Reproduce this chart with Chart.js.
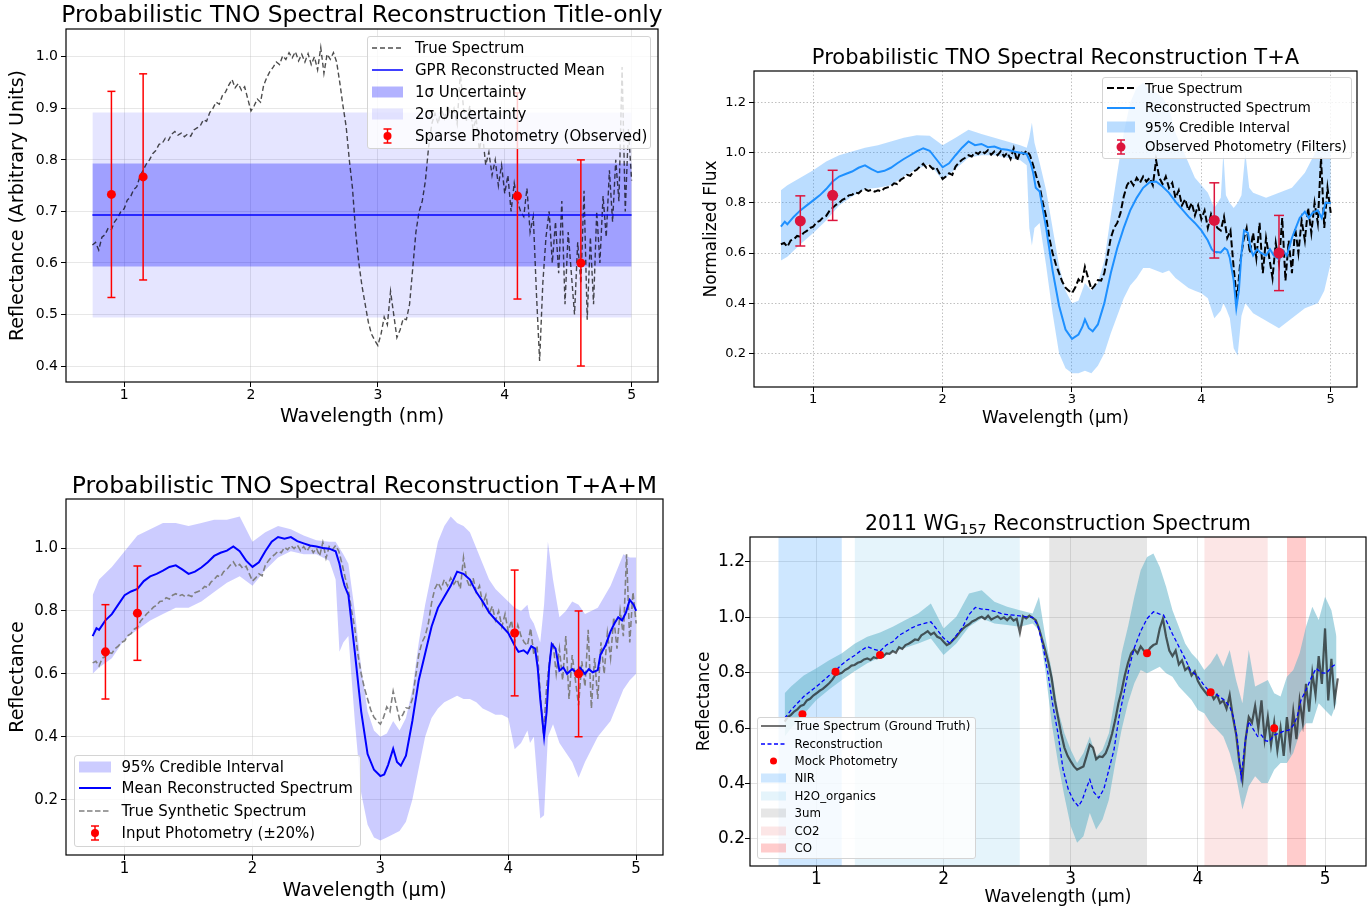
<!DOCTYPE html>
<html>
<head>
<meta charset="utf-8">
<script src="https://cdn.jsdelivr.net/npm/chart.js@4.4.1/dist/chart.umd.min.js"></script>
<style>
html, body { margin: 0; padding: 0; background: #fff; }
#page { position: relative; width: 1369px; height: 911px; overflow: hidden; font-family: "DejaVu Sans", sans-serif; }
canvas { position: absolute; }
.legend { position: absolute; background: rgba(255,255,255,0.8); border: 1px solid #d4d4d4; border-radius: 3px; box-sizing: border-box; }
.legend .row { position: absolute; left: 0; height: 20px; display: flex; align-items: center; white-space: nowrap; color: #000; }
.legend .sym { display: inline-block; height: 20px; }
</style>
</head>
<body>
<div id="page">
  <canvas id="c1"></canvas>
  <canvas id="c2"></canvas>
  <canvas id="c3"></canvas>
  <canvas id="c4"></canvas>
</div>
<script>
// ---------- data ----------

// synthetic true spectrum shared by the first three panels, 0.75..5.00 um every 0.025 um
const trueFlux = [
  0.635,0.640,0.625,0.650,0.655,0.668,0.665,0.680,0.688,0.700,
  0.705,0.722,0.728,0.742,0.748,0.768,0.780,0.792,0.800,0.812,
  0.818,0.830,0.832,0.842,0.838,0.850,0.855,0.848,0.852,0.845,
  0.850,0.846,0.858,0.862,0.866,0.878,0.875,0.892,0.900,0.912,
  0.908,0.925,0.932,0.945,0.956,0.940,0.948,0.935,0.942,0.918,
  0.895,0.905,0.918,0.912,0.945,0.960,0.972,0.980,0.990,0.985,
  1.002,0.995,1.008,0.998,1.010,0.992,1.005,0.990,1.006,0.985,
  1.000,0.975,1.018,0.968,1.005,0.995,1.008,0.990,0.950,0.905,
  0.865,0.800,0.745,0.660,0.600,0.555,0.520,0.485,0.462,0.450,
  0.440,0.462,0.495,0.480,0.545,0.500,0.455,0.470,0.492,0.490,
  0.520,0.590,0.660,0.700,0.720,0.760,0.825,0.870,0.890,0.870,
  0.900,0.880,0.905,0.885,0.900,0.870,0.970,0.900,0.875,0.905,
  0.860,0.880,0.820,0.850,0.790,0.815,0.770,0.800,0.750,0.790,
  0.735,0.770,0.700,0.755,0.720,0.700,0.690,0.745,0.660,0.690,
  0.540,0.410,0.560,0.650,0.700,0.600,0.680,0.580,0.720,0.520,
  0.660,0.580,0.500,0.640,0.560,0.740,0.490,0.650,0.520,0.700,
  0.600,0.730,0.650,0.780,0.680,0.800,0.720,0.980,0.700,0.860,
  0.760
];
const trueWl = trueFlux.map((_, i) => +(0.75 + 0.025 * i).toFixed(3));

// panel 1: GPR with a flat mean
const p1Mean = 0.693;
const p1Sigma1 = [0.593, 0.793];
const p1Sigma2 = [0.494, 0.892];
const p1Range = [0.75, 5.0];
const p1PhotWl = [0.9, 1.15, 4.1, 4.6];
const p1PhotVal = [0.733, 0.767, 0.73, 0.60];
const p1PhotErr = [0.2, 0.2, 0.2, 0.2];

// panel 2: T+A
const p2Recon = [
  [0.75,0.705],[0.78,0.725],[0.80,0.715],[0.85,0.745],[0.90,0.770],[0.95,0.790],[1.00,0.810],
  [1.05,0.830],[1.10,0.855],[1.15,0.885],[1.20,0.905],[1.25,0.915],[1.30,0.925],[1.35,0.940],
  [1.40,0.950],[1.45,0.935],[1.50,0.922],[1.55,0.928],[1.60,0.940],[1.65,0.958],[1.70,0.975],
  [1.75,0.990],[1.80,1.005],[1.85,1.018],[1.90,1.008],[1.95,0.975],[2.00,0.942],[2.05,0.958],
  [2.10,0.990],[2.15,1.020],[2.20,1.045],[2.25,1.030],[2.30,1.035],[2.35,1.022],[2.40,1.025],
  [2.45,1.015],[2.50,1.012],[2.55,1.005],[2.60,1.000],[2.65,0.995],[2.68,0.960],[2.70,0.920],
  [2.72,0.860],[2.75,0.845],[2.80,0.700],[2.85,0.530],[2.90,0.390],[2.95,0.295],[3.00,0.258],
  [3.05,0.275],[3.08,0.305],[3.10,0.335],[3.13,0.300],[3.16,0.288],[3.20,0.315],[3.25,0.400],
  [3.30,0.520],[3.35,0.620],[3.40,0.700],[3.45,0.770],[3.50,0.820],[3.55,0.860],[3.60,0.882],
  [3.65,0.885],[3.70,0.865],[3.75,0.840],[3.80,0.805],[3.85,0.775],[3.90,0.745],[3.95,0.720],
  [4.00,0.690],[4.05,0.650],[4.08,0.615],[4.10,0.605],[4.15,0.602],[4.18,0.620],[4.20,0.612],
  [4.22,0.580],[4.25,0.490],[4.27,0.380],[4.29,0.450],[4.31,0.600],[4.33,0.690],[4.36,0.680],
  [4.38,0.620],[4.40,0.590],[4.43,0.615],[4.46,0.600],[4.50,0.590],[4.53,0.615],[4.56,0.590],
  [4.60,0.575],[4.63,0.610],[4.66,0.590],[4.70,0.660],[4.73,0.700],[4.76,0.740],[4.80,0.765],
  [4.83,0.740],[4.86,0.760],[4.90,0.770],[4.93,0.740],[4.96,0.800],[5.00,0.800]
];
const p2Band = [ // wavelength, lower, upper
  [0.75,0.570,0.850],[0.80,0.585,0.870],[0.85,0.610,0.885],[0.90,0.635,0.900],[1.00,0.680,0.930],
  [1.10,0.730,0.965],[1.20,0.790,0.990],[1.30,0.825,1.005],[1.40,0.855,1.020],[1.50,0.860,1.030],
  [1.60,0.870,1.045],[1.70,0.905,1.060],[1.80,0.935,1.070],[1.90,0.955,1.068],[2.00,0.890,1.030],
  [2.10,0.935,1.060],[2.20,0.980,1.092],[2.30,0.990,1.075],[2.40,0.990,1.060],[2.50,0.980,1.045],
  [2.60,0.970,1.030],[2.65,0.950,1.020],[2.67,0.700,1.060],[2.69,0.630,1.120],[2.71,0.700,1.040],
  [2.75,0.720,0.960],[2.80,0.550,0.850],[2.85,0.360,0.700],[2.90,0.200,0.550],[2.95,0.140,0.450],
  [3.00,0.120,0.400],[3.05,0.120,0.410],[3.10,0.130,0.480],[3.15,0.120,0.450],[3.20,0.150,0.480],
  [3.25,0.200,0.570],[3.30,0.280,0.750],[3.35,0.350,0.920],[3.40,0.420,1.080],[3.45,0.470,1.200],
  [3.50,0.500,1.260],[3.55,0.540,1.280],[3.60,0.540,1.250],[3.65,0.530,1.240],[3.70,0.520,1.220],
  [3.75,0.530,1.180],[3.80,0.500,1.080],[3.85,0.480,1.020],[3.90,0.460,0.960],[3.95,0.450,0.900],
  [4.00,0.440,0.870],[4.05,0.420,0.840],[4.10,0.340,0.780],[4.15,0.370,0.820],[4.17,0.400,1.000],
  [4.19,0.380,0.830],[4.22,0.340,0.800],[4.25,0.220,0.780],[4.28,0.190,0.800],[4.31,0.350,0.830],
  [4.34,0.400,1.000],[4.37,0.380,0.860],[4.40,0.360,0.840],[4.50,0.330,0.820],[4.60,0.300,0.840],
  [4.70,0.340,0.860],[4.80,0.380,0.920],[4.90,0.400,1.020],[4.95,0.450,1.050],[5.00,0.560,1.020]
];
const p2PhotWl = [0.9, 1.15, 4.1, 4.6];
const p2PhotVal = [0.728, 0.83, 0.73, 0.60];
const p2PhotErr = [0.1, 0.1, 0.15, 0.15];

// panel 3: T+A+M
const p3Recon = [
  [0.75,0.720],[0.78,0.745],[0.80,0.740],[0.85,0.770],[0.90,0.790],[0.95,0.820],[1.00,0.850],
  [1.05,0.862],[1.10,0.870],[1.15,0.895],[1.20,0.910],[1.25,0.918],[1.30,0.928],[1.35,0.940],
  [1.40,0.945],[1.45,0.932],[1.50,0.918],[1.55,0.925],[1.60,0.938],[1.65,0.955],[1.70,0.975],
  [1.75,0.985],[1.80,0.992],[1.85,1.005],[1.90,0.990],[1.95,0.960],[2.00,0.940],[2.05,0.955],
  [2.10,0.990],[2.15,1.020],[2.20,1.035],[2.25,1.030],[2.30,1.035],[2.35,1.022],[2.40,1.015],
  [2.45,1.008],[2.50,1.005],[2.55,1.000],[2.60,0.998],[2.65,0.990],[2.68,0.950],[2.70,0.910],
  [2.72,0.880],[2.75,0.850],[2.80,0.670],[2.85,0.480],[2.90,0.345],[2.95,0.295],[3.00,0.275],
  [3.03,0.280],[3.06,0.310],[3.10,0.362],[3.13,0.320],[3.16,0.308],[3.20,0.340],[3.25,0.450],
  [3.30,0.580],[3.35,0.665],[3.40,0.750],[3.45,0.810],[3.50,0.845],[3.55,0.880],[3.60,0.925],
  [3.65,0.918],[3.70,0.900],[3.75,0.860],[3.80,0.830],[3.85,0.795],[3.90,0.772],[3.95,0.752],
  [4.00,0.730],[4.05,0.690],[4.08,0.670],[4.12,0.675],[4.15,0.665],[4.18,0.688],[4.21,0.680],
  [4.23,0.620],[4.25,0.520],[4.28,0.400],[4.30,0.480],[4.32,0.620],[4.34,0.695],[4.37,0.680],
  [4.40,0.610],[4.43,0.620],[4.46,0.600],[4.50,0.615],[4.53,0.605],[4.56,0.620],[4.60,0.600],
  [4.63,0.615],[4.66,0.605],[4.70,0.612],[4.72,0.660],[4.76,0.690],[4.80,0.735],[4.83,0.760],
  [4.86,0.780],[4.89,0.770],[4.92,0.795],[4.95,0.835],[4.98,0.820],[5.00,0.800]
];
const p3Band = [
  [0.75,0.600,0.850],[0.80,0.620,0.900],[0.90,0.650,0.940],[1.00,0.710,0.990],[1.10,0.740,1.040],
  [1.20,0.770,1.060],[1.30,0.790,1.080],[1.40,0.810,1.080],[1.50,0.810,1.070],[1.60,0.830,1.080],
  [1.70,0.860,1.090],[1.80,0.890,1.090],[1.90,0.910,1.100],[2.00,0.880,1.020],[2.10,0.930,1.050],
  [2.20,0.970,1.070],[2.30,0.990,1.060],[2.40,0.980,1.040],[2.50,0.980,1.025],[2.60,0.960,1.020],
  [2.65,0.900,1.020],[2.68,0.670,1.000],[2.71,0.700,0.980],[2.75,0.720,0.950],[2.80,0.450,0.800],
  [2.85,0.220,0.620],[2.90,0.120,0.480],[2.95,0.080,0.420],[3.00,0.070,0.400],[3.05,0.080,0.410],
  [3.10,0.090,0.450],[3.15,0.100,0.420],[3.20,0.130,0.460],[3.25,0.200,0.550],[3.30,0.300,0.700],
  [3.35,0.400,0.820],[3.40,0.460,0.920],[3.45,0.490,1.020],[3.50,0.510,1.070],[3.55,0.520,1.100],
  [3.60,0.530,1.080],[3.65,0.520,1.070],[3.70,0.520,1.050],[3.75,0.510,1.000],[3.80,0.490,0.950],
  [3.85,0.480,0.900],[3.90,0.470,0.870],[3.95,0.470,0.850],[4.00,0.460,0.830],[4.05,0.360,0.810],
  [4.10,0.380,0.800],[4.15,0.420,0.820],[4.17,0.380,0.780],[4.20,0.400,0.760],[4.25,0.140,0.700],
  [4.28,0.150,0.820],[4.31,0.400,1.020],[4.35,0.440,0.900],[4.40,0.380,0.780],[4.45,0.350,0.800],
  [4.50,0.320,0.830],[4.55,0.270,0.820],[4.60,0.320,0.790],[4.70,0.400,0.810],[4.80,0.450,0.880],
  [4.90,0.550,0.980],[4.95,0.580,0.970],[5.00,0.600,0.970]
];
const p3PhotWl = [0.85, 1.1, 4.05, 4.55];
const p3PhotVal = [0.67, 0.793, 0.73, 0.60];
const p3PhotErr = [0.15, 0.15, 0.2, 0.2];

// panel 4: 2011 WG157, true spectrum 0.75..5.10 um every 0.025 um
const p4TrueFlux = [
  0.624,0.640,0.648,0.660,0.668,0.680,0.684,0.700,0.706,0.718,
  0.726,0.735,0.742,0.752,0.762,0.775,0.792,0.796,0.800,0.810,
  0.816,0.826,0.828,0.836,0.840,0.848,0.852,0.846,0.856,0.852,
  0.862,0.858,0.870,0.868,0.878,0.872,0.892,0.886,0.900,0.905,
  0.912,0.920,0.918,0.935,0.942,0.950,0.938,0.945,0.930,0.925,
  0.912,0.900,0.906,0.918,0.930,0.945,0.958,0.968,0.975,0.985,
  0.990,0.998,1.002,0.994,1.006,0.992,0.998,1.004,0.994,1.000,
  0.990,1.002,0.988,0.995,0.945,1.004,0.996,1.006,0.998,0.990,
  0.960,0.920,0.880,0.835,0.780,0.700,0.640,0.580,0.530,0.500,
  0.480,0.462,0.450,0.456,0.462,0.500,0.540,0.530,0.488,0.498,
  0.496,0.510,0.540,0.580,0.630,0.690,0.735,0.790,0.835,0.870,
  0.885,0.870,0.895,0.880,0.872,0.890,0.900,0.905,0.960,0.995,
  0.930,0.880,0.860,0.880,0.830,0.845,0.810,0.820,0.790,0.805,
  0.770,0.750,0.735,0.720,0.730,0.705,0.720,0.690,0.700,0.670,
  0.720,0.640,0.580,0.480,0.414,0.560,0.640,0.620,0.680,0.600,
  0.700,0.560,0.640,0.540,0.620,0.520,0.600,0.500,0.640,0.540,
  0.660,0.560,0.700,0.620,0.760,0.660,0.800,0.720,0.860,0.760,
  0.960,0.700,0.850,0.700,0.780
];
const p4TrueWl = p4TrueFlux.map((_, i) => +(0.75 + 0.025 * i).toFixed(3));
const p4Recon = [
  [0.75,0.636],[0.80,0.665],[0.85,0.690],[0.90,0.714],[0.95,0.732],[1.00,0.750],[1.05,0.770],
  [1.10,0.790],[1.15,0.808],[1.20,0.830],[1.25,0.848],[1.30,0.862],[1.35,0.880],[1.40,0.894],
  [1.45,0.885],[1.50,0.878],[1.55,0.900],[1.60,0.912],[1.65,0.935],[1.70,0.948],[1.75,0.962],
  [1.80,0.972],[1.85,0.978],[1.90,0.984],[1.95,0.955],[2.00,0.925],[2.05,0.906],[2.10,0.935],
  [2.15,0.965],[2.20,1.010],[2.25,1.036],[2.30,1.030],[2.35,1.028],[2.40,1.022],[2.45,1.014],
  [2.50,1.010],[2.55,1.008],[2.60,1.005],[2.65,1.002],[2.70,1.000],[2.74,0.972],[2.78,0.900],
  [2.82,0.800],[2.86,0.680],[2.90,0.580],[2.94,0.450],[2.98,0.380],[3.02,0.340],[3.06,0.318],
  [3.09,0.340],[3.12,0.380],[3.15,0.414],[3.18,0.370],[3.22,0.348],[3.26,0.380],[3.30,0.450],
  [3.34,0.522],[3.38,0.640],[3.42,0.730],[3.46,0.820],[3.50,0.890],[3.55,0.950],[3.60,0.995],
  [3.65,1.020],[3.70,1.012],[3.73,1.008],[3.77,0.970],[3.80,0.940],[3.85,0.895],[3.90,0.850],
  [3.94,0.810],[4.00,0.786],[4.04,0.760],[4.08,0.738],[4.12,0.730],[4.17,0.714],[4.21,0.700],
  [4.25,0.678],[4.28,0.640],[4.31,0.560],[4.34,0.420],[4.37,0.546],[4.40,0.624],[4.43,0.600],
  [4.47,0.570],[4.50,0.575],[4.53,0.555],[4.56,0.552],[4.60,0.575],[4.64,0.582],[4.68,0.590],
  [4.72,0.594],[4.75,0.610],[4.78,0.640],[4.81,0.700],[4.85,0.738],[4.89,0.780],[4.93,0.816],
  [4.97,0.800],[5.01,0.798],[5.05,0.820],[5.09,0.834]
];
const p4Band = [
  [0.75,0.570,0.726],[0.80,0.600,0.750],[0.90,0.650,0.790],[1.00,0.702,0.816],[1.10,0.740,0.845],
  [1.20,0.774,0.870],[1.30,0.805,0.905],[1.40,0.834,0.930],[1.50,0.855,0.945],[1.60,0.876,0.966],
  [1.70,0.890,0.990],[1.80,0.906,1.014],[1.90,0.924,1.050],[2.00,0.864,0.960],[2.10,0.906,1.002],
  [2.20,0.966,1.086],[2.30,0.996,1.098],[2.40,0.978,1.056],[2.50,0.972,1.038],[2.60,0.966,1.026],
  [2.70,0.978,1.014],[2.75,0.954,1.074],[2.80,0.810,0.930],[2.85,0.618,0.810],[2.90,0.474,0.666],
  [2.95,0.354,0.582],[3.00,0.246,0.522],[3.05,0.186,0.474],[3.10,0.210,0.510],[3.15,0.294,0.570],
  [3.20,0.234,0.498],[3.25,0.270,0.522],[3.30,0.342,0.582],[3.35,0.474,0.714],[3.40,0.594,0.870],
  [3.45,0.690,0.966],[3.50,0.762,1.074],[3.55,0.810,1.170],[3.60,0.798,1.218],[3.65,0.810,1.230],
  [3.70,0.822,1.182],[3.75,0.798,1.110],[3.80,0.786,1.026],[3.85,0.750,0.966],[3.90,0.726,0.906],
  [3.95,0.702,0.870],[4.00,0.666,0.846],[4.05,0.654,0.810],[4.10,0.618,0.834],[4.15,0.594,0.870],
  [4.20,0.570,0.822],[4.25,0.510,0.882],[4.30,0.426,0.774],[4.35,0.306,0.690],[4.40,0.390,0.882],
  [4.45,0.426,0.750],[4.50,0.402,0.762],[4.55,0.402,0.774],[4.60,0.450,0.726],[4.65,0.474,0.714],
  [4.70,0.474,0.786],[4.75,0.510,0.810],[4.80,0.582,0.870],[4.85,0.618,0.966],[4.90,0.618,1.038],
  [4.95,0.690,0.990],[5.00,0.666,1.074],[5.05,0.642,1.026],[5.09,0.690,0.930]
];
const p4PhotWl = [0.89, 1.15, 1.5, 3.6, 4.1, 4.6];
const p4PhotVal = [0.65, 0.804, 0.864, 0.87, 0.73, 0.60];
const p4Regions = ['NIR', 'H2O_organics', '3um', 'CO2', 'CO'];
const p4RegionStart = [0.70, 1.30, 2.83, 4.05, 4.70];
const p4RegionEnd = [1.20, 2.60, 3.60, 4.55, 4.85];
const p4RegionColor = ['rgba(30,144,255,0.22)', 'rgba(135,206,235,0.22)', 'rgba(128,128,128,0.2)', 'rgba(240,128,128,0.2)', 'rgba(255,0,0,0.2)'];

// tick labels
const xTicks = [1, 2, 3, 4, 5];
const p1YTicks = [0.4, 0.5, 0.6, 0.7, 0.8, 0.9, 1.0];
const p2YTicks = [0.2, 0.4, 0.6, 0.8, 1.0, 1.2];
const p3YTicks = [0.2, 0.4, 0.6, 0.8, 1.0];
const p4YTicks = [0.2, 0.4, 0.6, 0.8, 1.0, 1.2];

// ---------- helpers ----------
Chart.defaults.font.family = "'DejaVu Sans', sans-serif";
Chart.defaults.color = '#000';

const xy = pairs => pairs.map(p => ({x: p[0], y: p[1]}));
const NONE = 'rgba(0,0,0,0)';

function curve(data, color, width, dash, order) {
  return {data, borderColor: color, borderWidth: width, borderDash: dash || [], pointRadius: 0, tension: 0, fill: false, order};
}

function band(rows, color, order) {
  return [
    {data: rows.map(r => ({x: r[0], y: r[1]})), borderColor: NONE, borderWidth: 0, pointRadius: 0, fill: false, order},
    {data: rows.map(r => ({x: r[0], y: r[2]})), borderColor: NONE, borderWidth: 0, pointRadius: 0, fill: '-1', backgroundColor: color, order}
  ];
}

function errorBars(wl, val, err, color, width, cap, order) {
  return wl.map((x, i) => ({
    data: [{x, y: val[i] - err[i]}, {x, y: val[i] + err[i]}],
    borderColor: color, borderWidth: width,
    pointStyle: 'line', pointRadius: cap, pointBorderColor: color, pointBorderWidth: width,
    fill: false, order
  }));
}

function markers(wl, val, color, r, order) {
  return {data: wl.map((x, i) => ({x, y: val[i]})), showLine: false, pointRadius: r,
          pointBackgroundColor: color, pointBorderColor: color, pointBorderWidth: 0, order};
}

const titlePlugin = {
  id: 'panelTitle',
  afterDraw(chart, args, o) {
    const {ctx, chartArea: a} = chart;
    ctx.save();
    ctx.fillStyle = '#000';
    ctx.textBaseline = 'alphabetic';
    ctx.textAlign = 'left';
    const parts = o.parts.map(p => {
      const size = p.sub ? o.size * 0.7 : o.size;
      ctx.font = size + "px 'DejaVu Sans'";
      return {text: p.text, size, sub: p.sub, w: ctx.measureText(p.text).width};
    });
    let x = (a.left + a.right) / 2 - parts.reduce((t, p) => t + p.w, 0) / 2;
    parts.forEach(p => {
      ctx.font = p.size + "px 'DejaVu Sans'";
      ctx.fillText(p.text, x, o.baseline + (p.sub ? o.size * 0.22 : 0));
      x += p.w;
    });
    ctx.restore();
  }
};

const framePlugin = {
  id: 'frame',
  afterDatasetsDraw(chart) {
    const {ctx, chartArea: a} = chart;
    ctx.save();
    ctx.setLineDash([]);
    ctx.strokeStyle = '#000';
    ctx.lineWidth = 1.2;
    ctx.strokeRect(a.left, a.top, a.right - a.left, a.bottom - a.top);
    ctx.restore();
  }
};

function makeChart(id, g, s) {
  const cv = document.getElementById(id);
  cv.width = g.box.w;
  cv.height = g.box.h;
  cv.style.left = g.box.x + 'px';
  cv.style.top = g.box.y + 'px';
  const yW = g.plot.l - g.box.x - 2;
  const xH = g.box.y + g.box.h - 2 - g.plot.b;
  const lh = s.labelSize * 1.2;
  const grid = {color: s.gridColor, lineWidth: 1, drawTicks: true, tickLength: 5, tickColor: '#000', tickWidth: 1};
  return new Chart(cv, {
    type: 'line',
    data: {datasets: s.datasets},
    options: {
      responsive: false,
      animation: false,
      events: [],
      layout: {autoPadding: false, padding: {left: 2, top: g.plot.t - g.box.y, right: g.box.x + g.box.w - g.plot.r, bottom: 2}},
      plugins: {
        legend: {display: false},
        tooltip: {enabled: false},
        panelTitle: {parts: s.title, size: s.titleSize, baseline: s.titleBase - g.box.y}
      },
      scales: {
        x: {
          type: 'linear', min: s.xMin, max: s.xMax,
          afterFit: sc => { sc.height = xH; },
          afterBuildTicks: sc => { sc.ticks = xTicks.map(v => ({value: v})); },
          ticks: {font: {size: s.tickSize}, color: '#000', padding: s.xTickPad, maxRotation: 0, autoSkip: false, callback: v => String(v)},
          grid, border: {display: false, dash: s.gridDash || []},
          title: {display: true, text: s.xTitle, color: '#000', font: {size: s.labelSize},
                  padding: {top: 0, bottom: (g.box.y + g.box.h - 2) - s.xTitleY - lh / 2}}
        },
        y: {
          min: s.yMin, max: s.yMax,
          afterFit: sc => { sc.width = yW; },
          afterBuildTicks: sc => { sc.ticks = s.yTicks.map(v => ({value: v})); },
          ticks: {font: {size: s.tickSize}, color: '#000', padding: s.yTickPad, autoSkip: false, callback: v => v.toFixed(1)},
          grid, border: {display: false, dash: s.gridDash || []},
          title: {display: true, text: s.yTitle, color: '#000', font: {size: s.labelSize},
                  padding: {top: s.yTitleX - (g.box.x + 2) - lh / 2, bottom: 0}}
        }
      }
    },
    plugins: [titlePlugin, framePlugin]
  });
}

const sym = {
  line: (w, c, lw, dash) => `<svg width="${w}" height="20"><line x1="0" y1="10" x2="${w}" y2="10" stroke="${c}" stroke-width="${lw}"${dash ? ` stroke-dasharray="${dash}"` : ''}/></svg>`,
  patch: (w, c, h) => `<svg width="${w}" height="20"><rect x="0" y="${10 - h / 2}" width="${w}" height="${h}" fill="${c}"/></svg>`,
  err: (w, c, r, cap, half) => `<svg width="${w}" height="20">
      <line x1="${w / 2}" y1="${10 - half}" x2="${w / 2}" y2="${10 + half}" stroke="${c}" stroke-width="1.5"/>
      <line x1="${w / 2 - cap}" y1="${10 - half}" x2="${w / 2 + cap}" y2="${10 - half}" stroke="${c}" stroke-width="1.5"/>
      <line x1="${w / 2 - cap}" y1="${10 + half}" x2="${w / 2 + cap}" y2="${10 + half}" stroke="${c}" stroke-width="1.5"/>
      <circle cx="${w / 2}" cy="10" r="${r}" fill="${c}"/></svg>`,
  dot: (w, c, r) => `<svg width="${w}" height="20"><circle cx="${w / 2}" cy="10" r="${r}" fill="${c}"/></svg>`
};

function drawLegend(L) {
  const el = document.createElement('div');
  el.className = 'legend';
  Object.assign(el.style, {left: L.x + 'px', top: L.y + 'px', width: L.w + 'px', height: L.h + 'px'});
  L.rows.forEach((r, i) => {
    const row = document.createElement('div');
    row.className = 'row';
    row.style.top = (L.rowY[i] - L.y - 1 - 10) + 'px';
    row.innerHTML = `<span class="sym" style="width:${L.symW}px;margin-left:${L.symX - L.x - 1}px">${r.sym}</span>` +
      `<span style="margin-left:${L.textX - L.symX - L.symW}px;font-size:${L.font}px">${r.label}</span>`;
    el.appendChild(row);
  });
  document.getElementById('page').appendChild(el);
}

// ---------- panel 1 ----------
makeChart('c1', {box: {x: 0, y: 0, w: 684, h: 455}, plot: {l: 66, t: 29, r: 658, b: 382}}, {
  title: [{text: 'Probabilistic TNO Spectral Reconstruction Title-only'}], titleSize: 23.4, titleBase: 22,
  xMin: 0.542, xMax: 5.208, yMin: 0.369, yMax: 1.054, yTicks: p1YTicks,
  tickSize: 14, xTickPad: 0, yTickPad: 3, labelSize: 19,
  xTitle: 'Wavelength (nm)', xTitleY: 417, yTitle: 'Reflectance (Arbitrary Units)', yTitleX: 18,
  gridColor: 'rgba(176,176,176,0.3)',
  datasets: [
    ...band([[p1Range[0], p1Sigma2[0], p1Sigma2[1]], [p1Range[1], p1Sigma2[0], p1Sigma2[1]]], 'rgba(0,0,255,0.1)', 60),
    ...band([[p1Range[0], p1Sigma1[0], p1Sigma1[1]], [p1Range[1], p1Sigma1[0], p1Sigma1[1]]], 'rgba(0,0,255,0.3)', 50),
    curve(trueWl.map((x, i) => ({x, y: trueFlux[i]})), 'rgba(0,0,0,0.7)', 1.4, [5, 3], 40),
    curve(p1Range.map(x => ({x, y: p1Mean})), 'blue', 1.5, null, 30),
    ...errorBars(p1PhotWl, p1PhotVal, p1PhotErr, 'red', 1.5, 4, 20),
    markers(p1PhotWl, p1PhotVal, 'red', 4.5, 10)
  ]
});
drawLegend({x: 367, y: 36, w: 284, h: 113, symX: 372, symW: 31, textX: 415, font: 15,
  rowY: [48.3, 70, 92, 114, 135.7],
  rows: [
    {label: 'True Spectrum', sym: sym.line(31, 'rgba(0,0,0,0.7)', 1.4, '5,3')},
    {label: 'GPR Reconstructed Mean', sym: sym.line(31, 'blue', 1.5)},
    {label: '1σ Uncertainty', sym: sym.patch(31, 'rgba(0,0,255,0.3)', 11)},
    {label: '2σ Uncertainty', sym: sym.patch(31, 'rgba(0,0,255,0.1)', 11)},
    {label: 'Sparse Photometry (Observed)', sym: sym.err(31, 'red', 4, 4, 7)}
  ]});

// ---------- panel 2 ----------
makeChart('c2', {box: {x: 684, y: 0, w: 685, h: 455}, plot: {l: 754, t: 71, r: 1357, b: 387}}, {
  title: [{text: 'Probabilistic TNO Spectral Reconstruction T+A'}], titleSize: 21, titleBase: 64,
  xMin: 0.542, xMax: 5.203, yMin: 0.0656, yMax: 1.326, yTicks: p2YTicks,
  tickSize: 13, xTickPad: 0, yTickPad: 3, labelSize: 17,
  xTitle: 'Wavelength (µm)', xTitleY: 419, yTitle: 'Normalized Flux', yTitleX: 712,
  gridColor: 'rgba(150,150,150,0.6)', gridDash: [1.5, 2],
  datasets: [
    ...band(p2Band, 'rgba(30,144,255,0.3)', 50),
    curve(trueWl.map((x, i) => ({x, y: trueFlux[i]})), '#000', 2, [7, 3], 40),
    curve(xy(p2Recon), '#1e90ff', 2, null, 30),
    ...errorBars(p2PhotWl, p2PhotVal, p2PhotErr, '#dc143c', 1.5, 5, 20),
    markers(p2PhotWl, p2PhotVal, '#dc143c', 5.5, 10)
  ]
});
drawLegend({x: 1102, y: 77, w: 250, h: 82, symX: 1107, symW: 28, textX: 1145, font: 13.4,
  rowY: [88.3, 107.7, 127.3, 146.7],
  rows: [
    {label: 'True Spectrum', sym: sym.line(28, '#000', 2, '7,3')},
    {label: 'Reconstructed Spectrum', sym: sym.line(28, '#1e90ff', 2)},
    {label: '95% Credible Interval', sym: sym.patch(28, 'rgba(30,144,255,0.3)', 11)},
    {label: 'Observed Photometry (Filters)', sym: sym.err(28, '#dc143c', 4.5, 4, 7)}
  ]});

// ---------- panel 3 ----------
makeChart('c3', {box: {x: 0, y: 455, w: 684, h: 456}, plot: {l: 66, t: 499, r: 663, b: 855}}, {
  title: [{text: 'Probabilistic TNO Spectral Reconstruction T+A+M'}], titleSize: 23.5, titleBase: 493,
  xMin: 0.5416, xMax: 5.21, yMin: 0.024, yMax: 1.156, yTicks: p3YTicks,
  tickSize: 15, xTickPad: 0, yTickPad: 3, labelSize: 19,
  xTitle: 'Wavelength (μm)', xTitleY: 891, yTitle: 'Reflectance', yTitleX: 18,
  gridColor: 'rgba(176,176,176,0.3)',
  datasets: [
    ...band(p3Band, 'rgba(0,0,255,0.2)', 50),
    curve(trueWl.map((x, i) => ({x, y: trueFlux[i]})), '#808080', 1.6, [6, 3], 40),
    curve(xy(p3Recon), 'blue', 2, null, 30),
    ...errorBars(p3PhotWl, p3PhotVal, p3PhotErr, 'red', 1.5, 4, 20),
    markers(p3PhotWl, p3PhotVal, 'red', 4.5, 10)
  ]
});
drawLegend({x: 74, y: 755, w: 287, h: 92, symX: 79, symW: 32, textX: 121.5, font: 15,
  rowY: [766.7, 788.3, 810.7, 832.7],
  rows: [
    {label: '95% Credible Interval', sym: sym.patch(32, 'rgba(0,0,255,0.2)', 11)},
    {label: 'Mean Reconstructed Spectrum', sym: sym.line(32, 'blue', 2)},
    {label: 'True Synthetic Spectrum', sym: sym.line(32, '#808080', 1.6, '5.5,2.5')},
    {label: 'Input Photometry (±20%)', sym: sym.err(32, 'red', 4, 4, 7)}
  ]});

// ---------- panel 4 ----------
const p4YMax = 1.29;
makeChart('c4', {box: {x: 684, y: 455, w: 685, h: 456}, plot: {l: 750, t: 537, r: 1366, b: 866}}, {
  title: [{text: '2011 WG'}, {text: '157', sub: true}, {text: ' Reconstruction Spectrum'}], titleSize: 20.4, titleBase: 530,
  xMin: 0.4775, xMax: 5.322, yMin: 0.1025, yMax: p4YMax, yTicks: p4YTicks,
  tickSize: 17, xTickPad: -2, yTickPad: 0, labelSize: 17,
  xTitle: 'Wavelength (μm)', xTitleY: 898, yTitle: 'Reflectance', yTitleX: 705,
  gridColor: 'rgba(176,176,176,0.35)',
  datasets: [
    ...p4RegionStart.map((s, i) => ({data: [{x: s, y: p4YMax}, {x: p4RegionEnd[i], y: p4YMax}],
      borderColor: NONE, borderWidth: 0, pointRadius: 0, fill: 'start', backgroundColor: p4RegionColor[i], order: 70})),
    ...band(p4Band, 'rgba(100,180,202,0.55)', 50),
    curve(p4TrueWl.map((x, i) => ({x, y: p4TrueFlux[i]})), 'rgba(20,20,20,0.68)', 2.2, null, 40),
    curve(xy(p4Recon), 'blue', 1.3, [4, 2.5], 30),
    markers(p4PhotWl, p4PhotVal, 'red', 4, 10)
  ]
});
drawLegend({x: 757, y: 717, w: 219, h: 142, symX: 760.6, symW: 25, textX: 794.5, font: 11.8,
  rowY: [726, 743.7, 761, 778.3, 796, 813.3, 831, 848.3],
  rows: [
    {label: 'True Spectrum (Ground Truth)', sym: sym.line(25, 'rgba(0,0,0,0.55)', 2)},
    {label: 'Reconstruction', sym: sym.line(25, 'blue', 1.3, '4,2.5')},
    {label: 'Mock Photometry', sym: sym.dot(25, 'red', 3.5)},
    ...p4Regions.map((n, i) => ({label: n, sym: sym.patch(25, p4RegionColor[i], 9)}))
  ]});
</script>
</body>
</html>
